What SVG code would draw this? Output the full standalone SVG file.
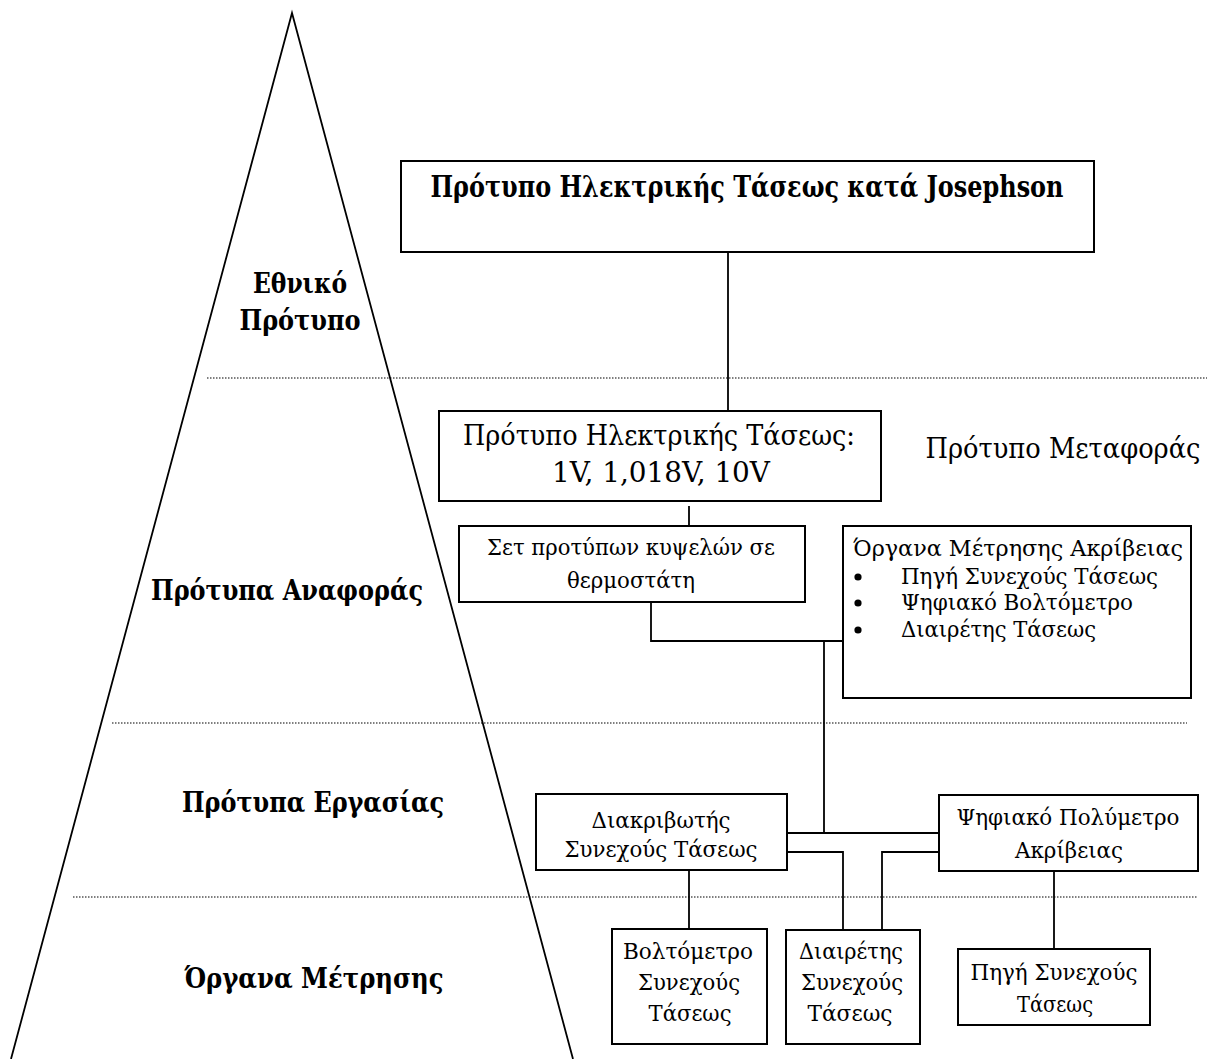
<svg xmlns="http://www.w3.org/2000/svg" width="1211" height="1059" viewBox="0 0 1211 1059">
<style>
.box{fill:#fff;stroke:#000;stroke-width:2}
.ln{fill:none;stroke:#000;stroke-width:1.8}
.dot{fill:none;stroke:#000;stroke-width:1.2;stroke-dasharray:1.5 1.5}
text{font-family:"DejaVu Serif Condensed","DejaVu Serif","Liberation Serif",serif;font-stretch:condensed;fill:#000}
.lbl{font-size:28px;font-weight:bold;text-anchor:middle}
.jo{font-size:29px;font-weight:bold;text-anchor:middle}
.big{font-size:27px;text-anchor:middle}
.md{font-size:23px;text-anchor:middle}
.ml{font-size:23px}
</style>
<rect width="1211" height="1059" fill="#fff"/>
<g id="pyramid">
<polyline class="ln" points="11,1059 292,13 573,1059"/>
</g>
<g id="levels">
<line class="dot" x1="207" y1="378" x2="1207" y2="378"/>
<line class="dot" x1="112" y1="723" x2="1187" y2="723"/>
<line class="dot" x1="73" y1="897" x2="1198" y2="897"/>
</g>
<g id="level-labels">
<text class="lbl" x="300" y="293" textLength="94" lengthAdjust="spacingAndGlyphs">Εθνικό</text>
<text class="lbl" x="300" y="330" textLength="121" lengthAdjust="spacingAndGlyphs">Πρότυπο</text>
<text class="lbl" x="287" y="600" textLength="272" lengthAdjust="spacingAndGlyphs">Πρότυπα Αναφοράς</text>
<text class="lbl" x="313" y="812" textLength="262" lengthAdjust="spacingAndGlyphs">Πρότυπα Εργασίας</text>
<text class="lbl" x="314" y="988" textLength="259" lengthAdjust="spacingAndGlyphs">Όργανα Μέτρησης</text>
<text class="big" x="1063" y="458" textLength="275" lengthAdjust="spacingAndGlyphs">Πρότυπο Μεταφοράς</text>
</g>
<g id="connectors">
<line class="ln" x1="728" y1="252" x2="728" y2="411"/>
<line class="ln" x1="689" y1="506" x2="689" y2="526"/>
<polyline class="ln" points="651,602 651,641 843,641"/>
<line class="ln" x1="824" y1="641" x2="824" y2="833"/>
<line class="ln" x1="787" y1="833" x2="939" y2="833"/>
<polyline class="ln" points="787,852 843,852 843,930"/>
<polyline class="ln" points="939,852 882,852 882,930"/>
<line class="ln" x1="689" y1="870" x2="689" y2="929"/>
<line class="ln" x1="1054" y1="871" x2="1054" y2="949"/>
</g>
<g id="josephson">
<rect class="box" x="401" y="161" width="693" height="91"/>
<text class="jo" x="747" y="197" textLength="633" lengthAdjust="spacingAndGlyphs">Πρότυπο Ηλεκτρικής Τάσεως κατά Josephson</text>
</g>
<g id="transfer-standard">
<rect class="box" x="439" y="411" width="442" height="90"/>
<text class="big" x="659" y="445" textLength="392" lengthAdjust="spacingAndGlyphs">Πρότυπο Ηλεκτρικής Τάσεως:</text>
<text class="big" x="661" y="482" textLength="218" lengthAdjust="spacingAndGlyphs">1V, 1,018V, 10V</text>
</g>
<g id="cells">
<rect class="box" x="459" y="526" width="346" height="76"/>
<text class="md" x="631" y="555" textLength="288" lengthAdjust="spacingAndGlyphs">Σετ προτύπων κυψελών σε</text>
<text class="md" x="631" y="588" textLength="128" lengthAdjust="spacingAndGlyphs">θερμοστάτη</text>
</g>
<g id="precision-instruments">
<rect class="box" x="843" y="526" width="348" height="172"/>
<text class="ml" x="853" y="556" textLength="330" lengthAdjust="spacingAndGlyphs">Όργανα Μέτρησης Ακρίβειας</text>
<circle cx="858" cy="577" r="3.6"/>
<circle cx="858" cy="603" r="3.6"/>
<circle cx="858" cy="630" r="3.6"/>
<text class="ml" x="901" y="584" textLength="257" lengthAdjust="spacingAndGlyphs">Πηγή Συνεχούς Τάσεως</text>
<text class="ml" x="901" y="610" textLength="232" lengthAdjust="spacingAndGlyphs">Ψηφιακό Βολτόμετρο</text>
<text class="ml" x="901" y="637" textLength="195" lengthAdjust="spacingAndGlyphs">Διαιρέτης Τάσεως</text>
</g>
<g id="calibrator">
<rect class="box" x="536" y="794" width="251" height="76"/>
<text class="md" x="661" y="828" textLength="139" lengthAdjust="spacingAndGlyphs">Διακριβωτής</text>
<text class="md" x="661" y="857" textLength="193" lengthAdjust="spacingAndGlyphs">Συνεχούς Τάσεως</text>
</g>
<g id="multimeter">
<rect class="box" x="939" y="795" width="259" height="76"/>
<text class="md" x="1068" y="825" textLength="223" lengthAdjust="spacingAndGlyphs">Ψηφιακό Πολύμετρο</text>
<text class="md" x="1069" y="858" textLength="108" lengthAdjust="spacingAndGlyphs">Ακρίβειας</text>
</g>
<g id="voltmeter">
<rect class="box" x="612" y="929" width="155" height="115"/>
<text class="md" x="688" y="959" textLength="130" lengthAdjust="spacingAndGlyphs">Βολτόμετρο</text>
<text class="md" x="689" y="990" textLength="102" lengthAdjust="spacingAndGlyphs">Συνεχούς</text>
<text class="md" x="690" y="1021" textLength="83" lengthAdjust="spacingAndGlyphs">Τάσεως</text>
</g>
<g id="divider">
<rect class="box" x="786" y="930" width="134" height="114"/>
<text class="md" x="851" y="959" textLength="104" lengthAdjust="spacingAndGlyphs">Διαιρέτης</text>
<text class="md" x="852" y="990" textLength="102" lengthAdjust="spacingAndGlyphs">Συνεχούς</text>
<text class="md" x="850" y="1021" textLength="85" lengthAdjust="spacingAndGlyphs">Τάσεως</text>
</g>
<g id="source">
<rect class="box" x="958" y="949" width="192" height="76"/>
<text class="md" x="1054" y="980" textLength="167" lengthAdjust="spacingAndGlyphs">Πηγή Συνεχούς</text>
<text class="md" x="1055" y="1012" textLength="76" lengthAdjust="spacingAndGlyphs">Τάσεως</text>
</g>
</svg>
